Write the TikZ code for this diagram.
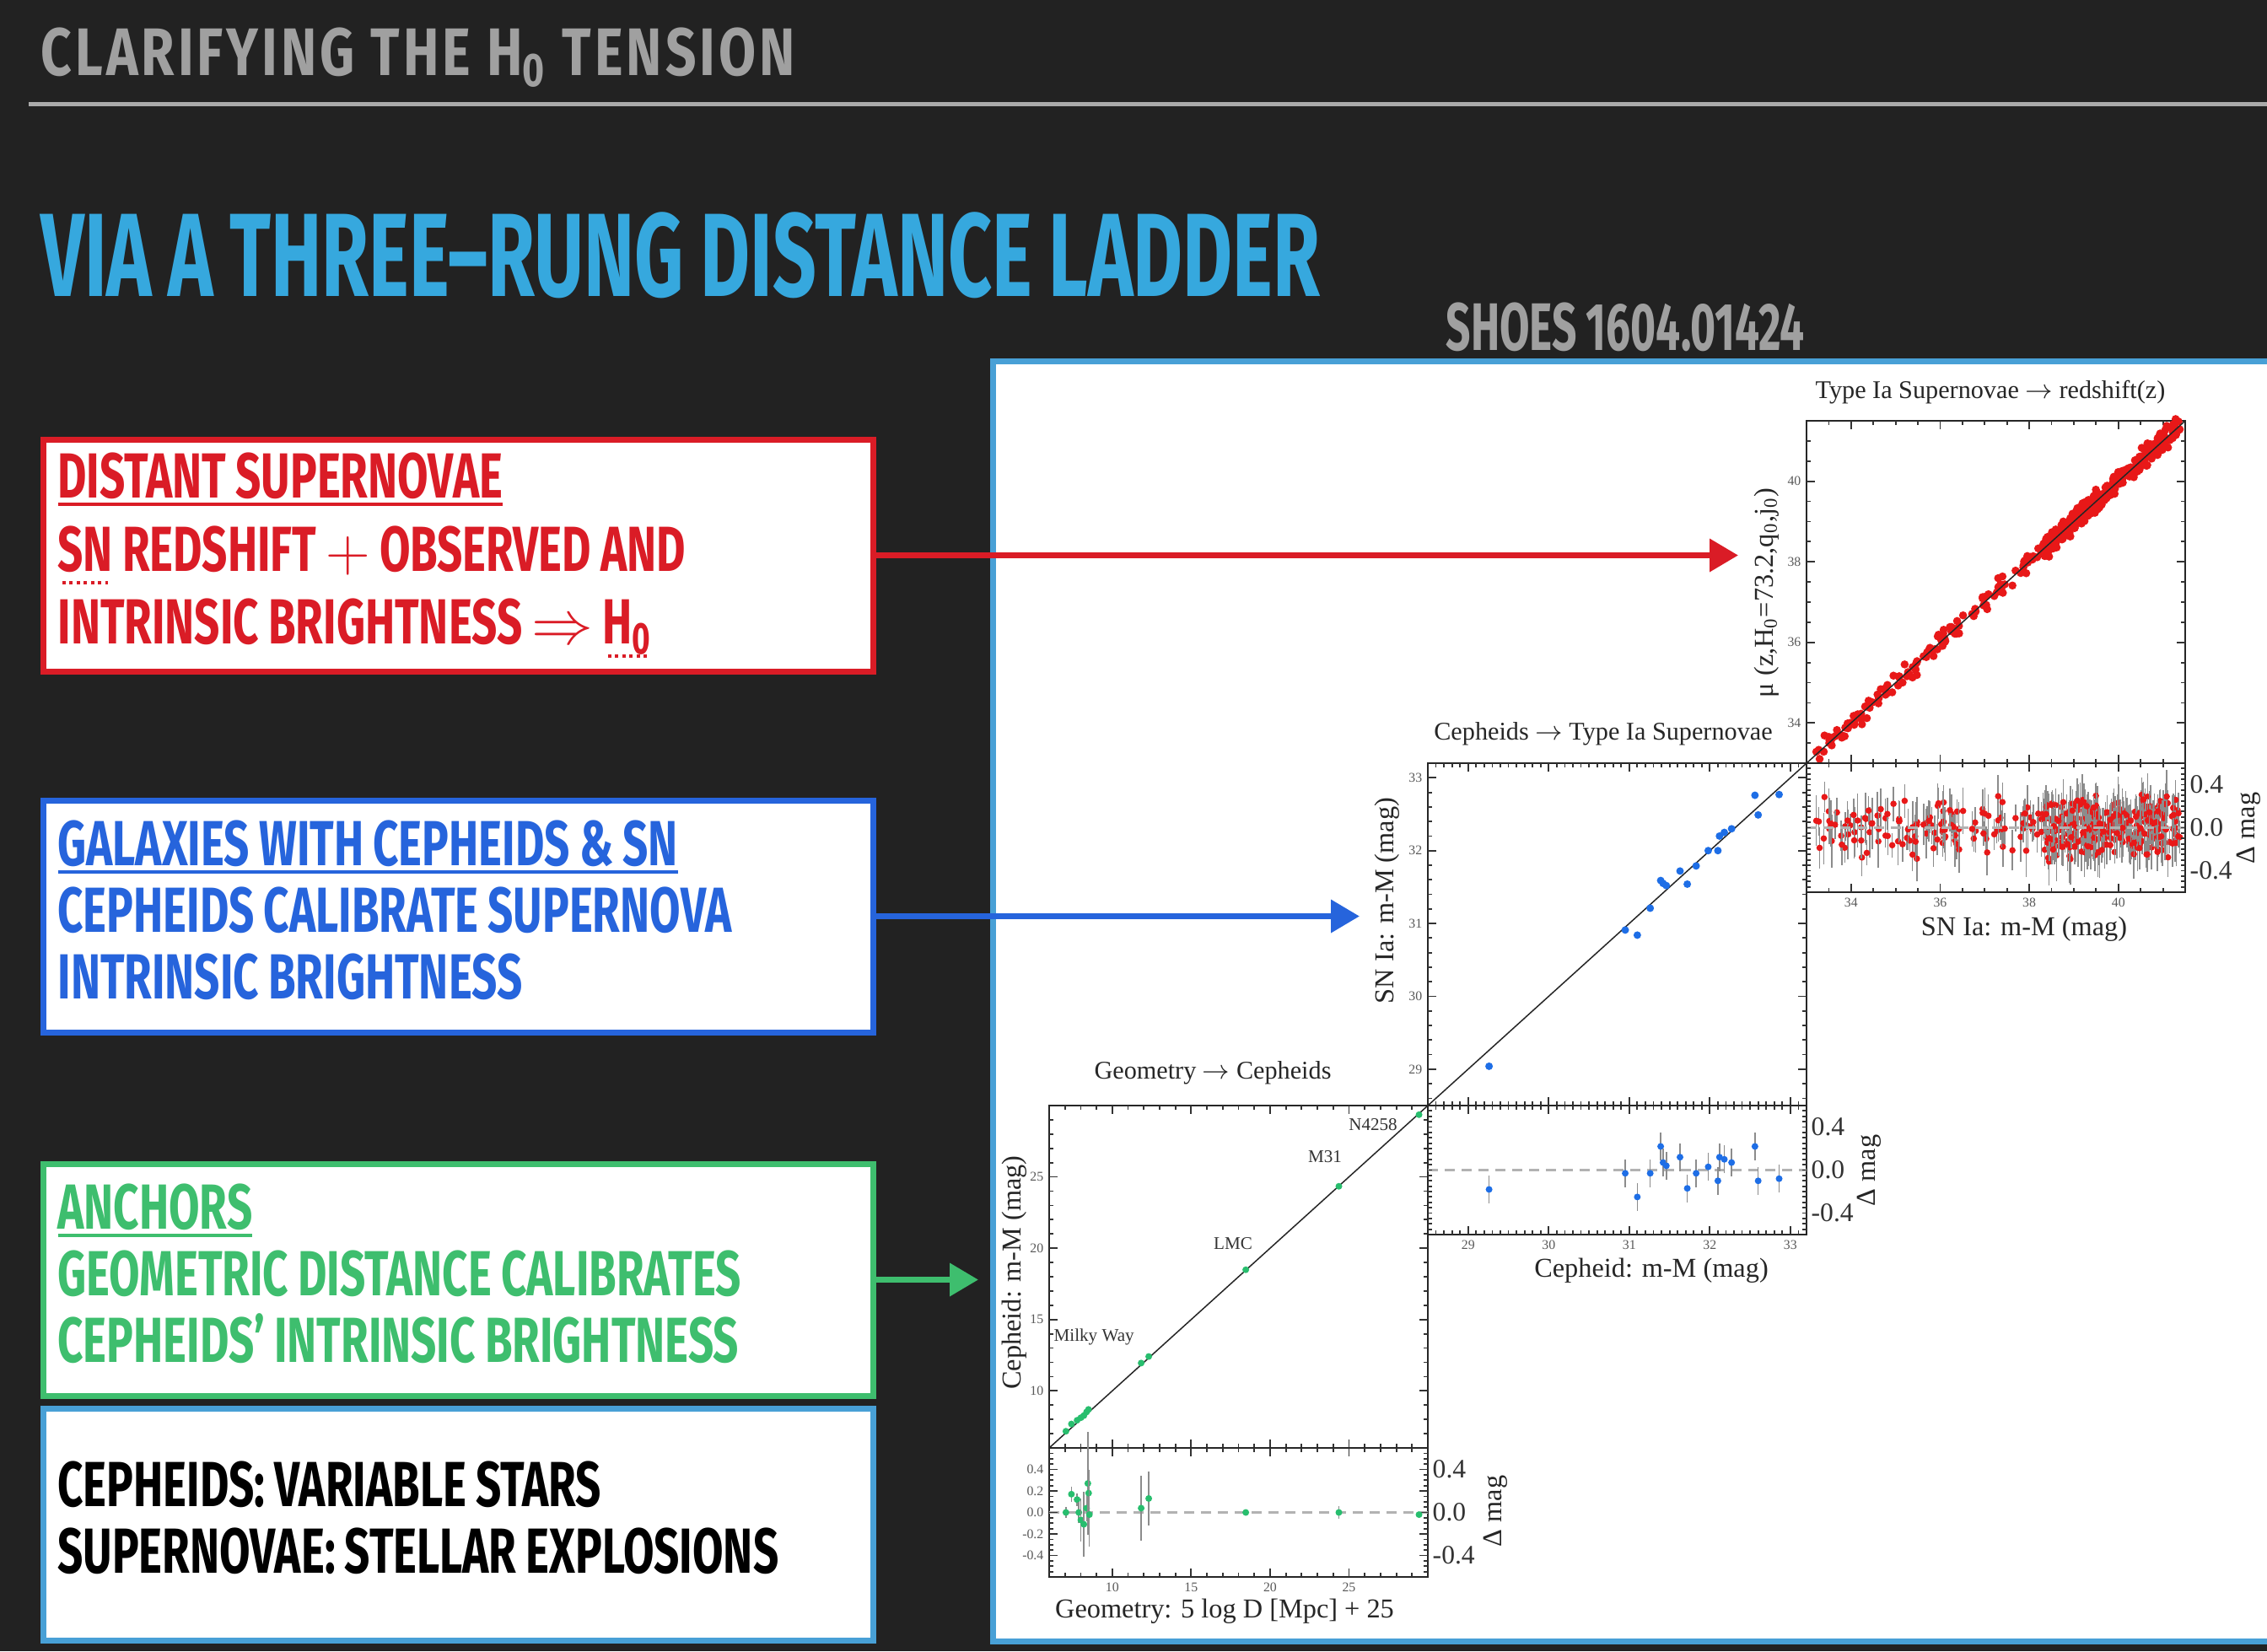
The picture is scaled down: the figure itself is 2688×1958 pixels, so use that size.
\documentclass[tikz,border=0pt]{standalone}
\usepackage{fontspec}
\setmainfont{Liberation Serif}
\newfontfamily\dinfont[FakeStretch=0.70,WordSpace=0.9]{Fira Sans}
\newfontfamily\dintitle[FakeStretch=0.645,WordSpace=0.9]{Fira Sans}
\newfontfamily\dinwide[FakeStretch=0.8,LetterSpace=5]{Fira Sans}
\usetikzlibrary{arrows.meta}
\definecolor{slidebg}{RGB}{34,34,34}
\definecolor{slidegray}{RGB}{160,160,160}
\definecolor{titleblue}{RGB}{54,168,222}
\definecolor{panelblue}{RGB}{72,160,214}
\definecolor{rungred}{RGB}{218,28,38}
\definecolor{rungblue}{RGB}{38,100,220}
\definecolor{runggreen}{RGB}{62,190,110}
\definecolor{snred}{RGB}{232,24,24}
\definecolor{cephblue}{RGB}{30,110,230}
\definecolor{anchgreen}{RGB}{40,190,110}
\newcommand{\rungul}[1]{\mbox{\setbox0=\hbox{#1}\rlap{\lower2.6pt\hbox{\rule{\wd0}{1.1pt}}}\box0}}
\newcommand{\spelldots}[1]{\mbox{\setbox0=\hbox{#1}\rlap{\lower4.5pt\hbox to\wd0{\cleaders\hbox to 2.4pt{\hss\rule{1.1pt}{1.1pt}\hss}\hfil}}\box0}}
\newcommand{\lowpad}{\rule[-1.6mm]{0pt}{1.6mm}}

\begin{document}
\begin{tikzpicture}[x=0.1mm,y=-0.1mm,>={Triangle[length=3.4mm,width=3.8mm]},
    rungbox/.style={draw=#1,line width=0.7mm,fill=white,text=#1,minimum width=9.84cm,minimum height=2.75cm,
      text width=9.5cm,inner xsep=1.7mm,align=flush left,font=\dinfont\bfseries\fontsize{21.5}{22.4}\selectfont},
    rungarrow/.style={->,draw=#1,line width=0.7mm},
    axisbox/.style={draw=black!85,line width=0.25mm},
    axtick/.style={draw=black!80,line width=0.18mm},
    ticklbl/.style={font=\fontsize{4.5}{5}\selectfont,text=black!65,inner sep=0.6mm},
    ptitle/.style={font=\fontsize{8.6}{10}\selectfont,text=black!85,inner sep=0},
    axlbl/.style={font=\fontsize{9.2}{11}\selectfont,text=black!85,inner sep=0},
    residlbl/.style={font=\fontsize{9}{10}\selectfont,text=black!80,anchor=west,inner sep=0.5mm},
    galaxylbl/.style={font=\fontsize{6}{7}\selectfont,text=black!80,inner sep=0},
    zeroline/.style={draw=black!30,line width=0.25mm,dash pattern=on 1.2mm off 0.8mm},
    errbar/.style={draw=black!45,line width=0.15mm},
    fitline/.style={draw=black!85,line width=0.15mm}]
  \useasboundingbox (0,0) rectangle (2688,1958);
  \clip (0,0) rectangle (2688,1958);
  \fill[slidebg] (0,0) rectangle (2688,1958);

  \node[anchor=base west,inner sep=0,text=slidegray,font=\dinwide\bfseries\fontsize{22.7}{24}\selectfont] (header) at (48,89)
    {CLARIFYING THE H\textsubscript{0} TENSION};
  \draw[slidegray!90,line width=0.5mm] (34,123) -- (2688,123);
  \node[anchor=base west,inner sep=0,text=titleblue,font=\dintitle\bfseries\fontsize{40}{44}\selectfont] (title) at (48,351)
    {VIA A THREE\textendash RUNG DISTANCE LADDER};
  \node[anchor=base west,inner sep=0,text=slidegray,font=\dintitle\bfseries\fontsize{22.7}{24}\selectfont] (shoes) at (1714,415)
    {SHOES 1604.01424};

  \draw[panelblue,line width=0.65mm,fill=white] (1177.5,428.5) rectangle (2720,1946.5);

  \node[rungbox=rungred,font=\dinfont\bfseries\fontsize{21.5}{24.6}\selectfont] (distant) at (543.5,658.5)
    {\rungul{DISTANT SUPERNOVAE}\\\spelldots{SN} REDSHIFT $+$ OBSERVED AND\\INTRINSIC BRIGHTNESS $\Rightarrow$ \spelldots{H\textsubscript{0}}};
  \node[rungbox=rungblue] (hosts) at (543.5,1086.5)
    {\rungul{GALAXIES WITH CEPHEIDS \& SN}\\CEPHEIDS CALIBRATE SUPERNOVA\\INTRINSIC BRIGHTNESS\lowpad};
  \node[rungbox=runggreen] (anchors) at (543.5,1517.5)
    {\rungul{ANCHORS}\\GEOMETRIC DISTANCE CALIBRATES\\CEPHEIDS’ INTRINSIC BRIGHTNESS\lowpad};
  \node[rungbox=panelblue,text=black] (glossary) at (543.5,1807.5)
    {CEPHEIDS: VARIABLE STARS\\SUPERNOVAE: STELLAR EXPLOSIONS\lowpad};

  \coordinate (snaxis) at (2061,658.5);
  \coordinate (cephaxis) at (1612,1086.5);
  \coordinate (geoaxis) at (1160,1517.5);
  \draw[rungarrow=rungred] (distant.east) -- (snaxis);
  \draw[rungarrow=rungblue] (hosts.east) -- (cephaxis);
  \draw[rungarrow=runggreen] (anchors.east) -- (geoaxis);

  \begin{scope}[shift={(1131.75,1818.5)},x=0.187083cm,y=0.169167cm]
    \draw[axisbox] (6,6) rectangle (30,30);
    \foreach \t in {7,...,29} {
      \draw[axtick] (\t,6) -- ++(0,0.5mm);
      \draw[axtick] (\t,30) -- ++(0,-0.5mm);
      \draw[axtick] (6,\t) -- ++(0.5mm,0);
      \draw[axtick] (30,\t) -- ++(-0.5mm,0);
    }
    \foreach \t [count=\i] in {10,15,20,25} {
      \draw[axtick] (\t,6) -- ++(0,1mm);
      \draw[axtick] (\t,30) -- ++(0,-1mm);
      \draw[axtick] (6,\t) -- ++(1mm,0);
      \draw[axtick] (30,\t) -- ++(-1mm,0);
      \node[ticklbl,anchor=east] (geoytick\i) at (6,\t) {\t};
    }
    \draw[fitline] (6,6) -- (30,30);
    \foreach \gx/\gy in {7.06/7.17,7.41/7.68,7.77/7.94,8.01/8.12,8.2/8.27,8.37/8.52,8.49/8.7,
        11.83/11.95,12.31/12.41,18.46/18.49,24.36/24.34,29.44/29.36}
      \fill[anchgreen] (\gx,\gy) circle[radius=0.4mm];
  \end{scope}

  \begin{scope}[shift={(1131.75,1793.5)},x=0.187083cm,y=1.275cm]
    \draw[axisbox] (6,-0.6) rectangle (30,0.6);
    \draw[zeroline] (6,0) -- (30,0);
    \foreach \t in {7,...,29} {
      \draw[axtick] (\t,-0.6) -- ++(0,0.5mm);
      \draw[axtick] (\t,0.6) -- ++(0,-0.5mm);
    }
    \foreach \i in {-11,...,11} {
      \pgfmathsetmacro\t{\i/20}
      \draw[axtick] (6,\t) -- ++(0.5mm,0);
      \draw[axtick] (30,\t) -- ++(-0.5mm,0);
    }
    \foreach \t [count=\i] in {10,15,20,25} {
      \draw[axtick] (\t,-0.6) -- ++(0,1mm);
      \draw[axtick] (\t,0.6) -- ++(0,-1mm);
      \node[ticklbl,anchor=north] (geoxtick\i) at (\t,-0.6) {\t};
    }
    \foreach \t/\s [count=\i] in {0.4/0.4,0.2/0.2,0/0.0,-0.2/-0.2,-0.4/-0.4} {
      \draw[axtick] (6,\t) -- ++(1mm,0);
      \draw[axtick] (30,\t) -- ++(-1mm,0);
      \node[ticklbl,anchor=east] (georlab\i) at (6,\t) {\s};
    }
    \node[residlbl] (georight1) at (30,0.4) {0.4};
    \node[residlbl] (georight2) at (30,0) {0.0};
    \node[residlbl] (georight3) at (30,-0.4) {-0.4};
    \foreach \gx/\gr/\ge in {7.06/0.0/0.05,7.41/0.17/0.07,7.77/0.12/0.06,7.88/0.0/0.1,8.01/-0.07/0.2,
        8.2/-0.11/0.3,8.37/0.04/0.12,8.45/0.27/0.48,8.5/0.18/0.22,8.55/-0.02/0.3,11.83/0.04/0.3,
        12.31/0.13/0.25,18.46/0.0/0.02,24.36/0.0/0.06,29.44/-0.02/0.03} {
      \draw[errbar] (\gx,\gr-\ge) -- (\gx,\gr+\ge);
      \fill[anchgreen] (\gx,\gr) circle[radius=0.4mm];
    }
  \end{scope}

  \begin{scope}[shift={(-1029.66,3772.92)},x=0.95532cm,y=0.86383cm]
    \draw[axisbox] (28.5,28.5) rectangle (33.2,33.2);
    \foreach \i in {286,...,331} {
      \pgfmathsetmacro\t{\i/10}
      \draw[axtick] (\t,28.5) -- ++(0,0.5mm);
      \draw[axtick] (\t,33.2) -- ++(0,-0.5mm);
    }
    \foreach \i in {143,...,165} {
      \pgfmathsetmacro\t{\i/5}
      \draw[axtick] (28.5,\t) -- ++(0.5mm,0);
      \draw[axtick] (33.2,\t) -- ++(-0.5mm,0);
    }
    \foreach \t [count=\i] in {29,...,33} {
      \draw[axtick] (\t,28.5) -- ++(0,1mm);
      \draw[axtick] (\t,33.2) -- ++(0,-1mm);
      \draw[axtick] (28.5,\t) -- ++(1mm,0);
      \draw[axtick] (33.2,\t) -- ++(-1mm,0);
      \node[ticklbl,anchor=east] (cephytick\i) at (28.5,\t) {\t};
    }
    \draw[fitline] (28.5,28.5) -- (33.2,33.2);
    \foreach \cx/\cy in {29.26/29.04,30.95/30.91,31.10/30.84,31.26/31.21,31.39/31.59,31.42/31.55,
        31.46/31.52,31.63/31.72,31.72/31.54,31.83/31.79,31.98/32.00,32.10/32.00,32.12/32.20,
        32.18/32.25,32.27/32.30,32.56/32.76,32.60/32.49,32.86/32.77}
      \fill[cephblue] (\cx,\cy) circle[radius=0.45mm];
  \end{scope}

  \begin{scope}[shift={(-1029.66,1387.5)},x=0.95532cm,y=1.275cm]
    \draw[axisbox] (28.5,-0.6) rectangle (33.2,0.6);
    \draw[zeroline] (28.5,0) -- (33.2,0);
    \foreach \i in {286,...,331} {
      \pgfmathsetmacro\t{\i/10}
      \draw[axtick] (\t,-0.6) -- ++(0,0.5mm);
      \draw[axtick] (\t,0.6) -- ++(0,-0.5mm);
    }
    \foreach \i in {-11,...,11} {
      \pgfmathsetmacro\t{\i/20}
      \draw[axtick] (28.5,\t) -- ++(0.5mm,0);
      \draw[axtick] (33.2,\t) -- ++(-0.5mm,0);
    }
    \foreach \t [count=\i] in {29,...,33} {
      \draw[axtick] (\t,-0.6) -- ++(0,1mm);
      \draw[axtick] (\t,0.6) -- ++(0,-1mm);
      \node[ticklbl,anchor=north] (cephxtick\i) at (\t,-0.6) {\t};
    }
    \node[residlbl] (cephright1) at (33.2,0.4) {0.4};
    \node[residlbl] (cephright2) at (33.2,0) {0.0};
    \node[residlbl] (cephright3) at (33.2,-0.4) {-0.4};
    \foreach \cx/\cr in {29.26/-0.18,30.95/-0.03,31.10/-0.25,31.26/-0.03,31.39/0.22,31.42/0.07,
        31.46/0.04,31.63/0.12,31.72/-0.17,31.83/-0.03,31.98/0.03,32.10/-0.1,32.12/0.12,
        32.18/0.10,32.27/0.07,32.56/0.22,32.60/-0.10,32.86/-0.08} {
      \draw[errbar] (\cx,\cr-0.13) -- (\cx,\cr+0.13);
      \fill[cephblue] (\cx,\cr) circle[radius=0.4mm];
    }
  \end{scope}

  \begin{scope}[shift={(398.81,2481.25)},x=0.52824cm,y=0.47765cm]
    \draw[axisbox] (33,33) rectangle (41.5,41.5);
    \foreach \i in {67,...,82} {
      \pgfmathsetmacro\t{\i/2}
      \draw[axtick] (\t,33) -- ++(0,0.5mm);
      \draw[axtick] (\t,41.5) -- ++(0,-0.5mm);
      \draw[axtick] (33,\t) -- ++(0.5mm,0);
      \draw[axtick] (41.5,\t) -- ++(-0.5mm,0);
    }
    \foreach \t [count=\i] in {34,36,38,40} {
      \draw[axtick] (\t,33) -- ++(0,1mm);
      \draw[axtick] (\t,41.5) -- ++(0,-1mm);
      \draw[axtick] (33,\t) -- ++(1mm,0);
      \draw[axtick] (41.5,\t) -- ++(-1mm,0);
      \node[ticklbl,anchor=east] (snytick\i) at (33,\t) {\t};
    }
    \pgfmathsetseed{2718}
    \foreach \k in {1,...,420} {
      \pgfmathsetmacro\sx{\k<190 ? 33.2+8.15*rnd : 38.3+3.1*rnd}
      \pgfmathsetmacro\sr{0.17*(rand+rand)}
      \pgfmathsetmacro\se{0.1+0.15*rnd}
      \fill[snred] (\sx,\sx+\sr) circle[radius=0.48mm];
    }
    \draw[fitline] (33,33) -- (41.5,41.5);
  \end{scope}

  \begin{scope}[shift={(398.81,981.5)},x=0.52824cm,y=1.275cm]
    \pgfmathsetseed{2718}
    \foreach \k in {1,...,420} {
      \pgfmathsetmacro\sx{\k<190 ? 33.2+8.15*rnd : 38.3+3.1*rnd}
      \pgfmathsetmacro\sr{0.17*(rand+rand)}
      \pgfmathsetmacro\se{0.1+0.15*rnd}
      \draw[errbar] (\sx,\sr-\se) -- (\sx,\sr+\se);
      \fill[snred] (\sx,\sr) circle[radius=0.38mm];
    }
    \draw[zeroline] (33,0) -- (41.5,0);
    \draw[axisbox] (33,-0.6) rectangle (41.5,0.6);
    \foreach \i in {67,...,82} {
      \pgfmathsetmacro\t{\i/2}
      \draw[axtick] (\t,-0.6) -- ++(0,0.5mm);
      \draw[axtick] (\t,0.6) -- ++(0,-0.5mm);
    }
    \foreach \i in {-11,...,11} {
      \pgfmathsetmacro\t{\i/20}
      \draw[axtick] (33,\t) -- ++(0.5mm,0);
      \draw[axtick] (41.5,\t) -- ++(-0.5mm,0);
    }
    \foreach \t [count=\i] in {34,36,38,40} {
      \draw[axtick] (\t,-0.6) -- ++(0,1mm);
      \draw[axtick] (\t,0.6) -- ++(0,-1mm);
      \node[ticklbl,anchor=north] (snxtick\i) at (\t,-0.6) {\t};
    }
    \node[residlbl] (snright1) at (41.5,0.4) {0.4};
    \node[residlbl] (snright2) at (41.5,0) {0.0};
    \node[residlbl] (snright3) at (41.5,-0.4) {-0.4};
  \end{scope}

  \node[ptitle] (geotitle) at (1438,1272) {Geometry $\rightarrow$ Cepheids};
  \node[axlbl,rotate=90] (geoylabel) at (1203,1509) {Cepheid: m-M (mag)};
  \node[axlbl] (geoxlabel) at (1452,1911) {Geometry: 5 log D [Mpc] + 25};
  \node[axlbl,rotate=90] (geodmag) at (1773,1792) {Δ mag};
  \node[galaxylbl] (n4258) at (1628,1334) {N4258};
  \node[galaxylbl] (m31) at (1571,1372) {M31};
  \node[galaxylbl] (lmc) at (1462,1475) {LMC};
  \node[galaxylbl,anchor=west] (milkyway) at (1249,1585) {Milky Way};

  \node[ptitle] (cephtitle) at (1901,870) {Cepheids $\rightarrow$ Type Ia Supernovae};
  \node[axlbl,rotate=90] (cephylabel) at (1645,1068) {SN Ia: m-M (mag)};
  \node[axlbl] (cephxlabel) at (1958,1507) {Cepheid: m-M (mag)};
  \node[axlbl,rotate=90] (cephdmag) at (2216,1388) {Δ mag};

  \node[ptitle] (sntitle) at (2360,465) {Type Ia Supernovae $\rightarrow$ redshift(z)};
  \node[axlbl,rotate=90] (snylabel) at (2095,703) {μ (z,H\textsubscript{0}=73.2,q\textsubscript{0},j\textsubscript{0})};
  \node[axlbl] (snxlabel) at (2400,1102) {SN Ia: m-M (mag)};
  \node[axlbl,rotate=90] (sndmag) at (2666,982) {Δ mag};
\end{tikzpicture}
\end{document}
